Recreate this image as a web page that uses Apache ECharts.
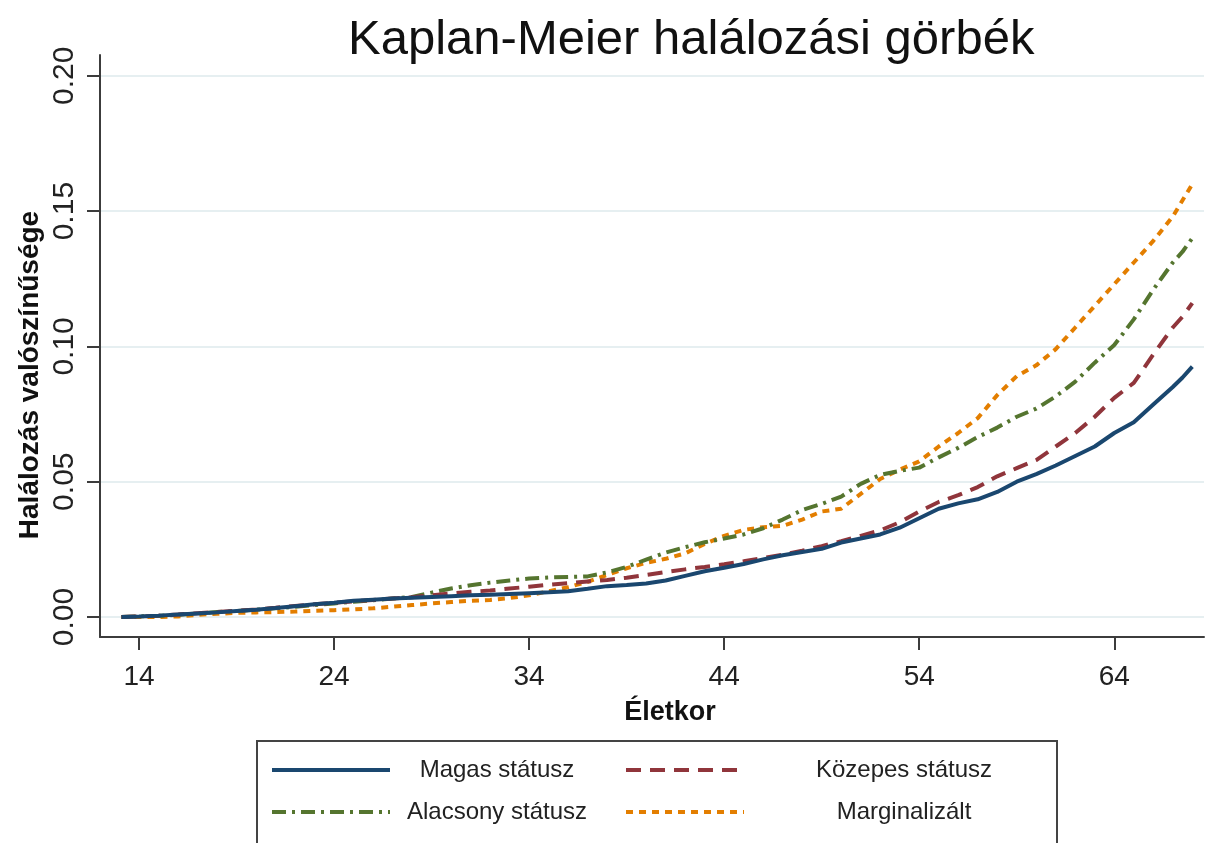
<!DOCTYPE html>
<html>
<head>
<meta charset="utf-8">
<script src="https://cdn.jsdelivr.net/npm/echarts@6/dist/echarts.min.js"></script>
<style>
  html, body { margin: 0; padding: 0; background: #ffffff; }
  #chart { width: 1209px; height: 843px; }
</style>
</head>
<body>
<div id="chart"></div>
<script>
// ---- data ----
const ages = [13.1, 14, 15, 16, 17, 18, 19, 20, 21, 22, 23, 24, 25, 26, 27, 28, 29, 30, 31, 32, 33, 34, 35, 36, 37, 38, 39, 40, 41, 42, 43, 44, 45, 46, 47, 48, 49, 50, 51, 52, 53, 54, 55, 56, 57, 58, 59, 60, 61, 62, 63, 64, 65, 66, 67, 67.5, 68];

const magas = [0, 0.0002, 0.0005, 0.0009, 0.0013, 0.0017, 0.0022, 0.0027, 0.0033, 0.0040, 0.0047, 0.0053, 0.0060, 0.0064, 0.0068, 0.0071, 0.0074, 0.0077, 0.0080, 0.0082, 0.0085, 0.0088, 0.0091, 0.0095, 0.0104, 0.0114, 0.0118, 0.0124, 0.0135, 0.0152, 0.0169, 0.0182, 0.0196, 0.0213, 0.0228, 0.0240, 0.0252, 0.0275, 0.0290, 0.0305, 0.0330, 0.0365, 0.0400, 0.0420, 0.0435, 0.0462, 0.0500, 0.0528, 0.0560, 0.0595, 0.0630, 0.0680, 0.0720, 0.0785, 0.0850, 0.0885, 0.0925];

const kozepes = [0, 0.0002, 0.0005, 0.0009, 0.0014, 0.0018, 0.0023, 0.0028, 0.0034, 0.0041, 0.0047, 0.0053, 0.0058, 0.0063, 0.0068, 0.0073, 0.0080, 0.0087, 0.0093, 0.0098, 0.0105, 0.0112, 0.0119, 0.0125, 0.0131, 0.0137, 0.0145, 0.0155, 0.0166, 0.0176, 0.0185, 0.0195, 0.0206, 0.0218, 0.0230, 0.0245, 0.0262, 0.0280, 0.0300, 0.0320, 0.0350, 0.0390, 0.0425, 0.0450, 0.0480, 0.0520, 0.0550, 0.0580, 0.0630, 0.0680, 0.0740, 0.0810, 0.0865, 0.0970, 0.1070, 0.1110, 0.1160];

const alacsony = [0, 0.0002, 0.0004, 0.0008, 0.0013, 0.0018, 0.0022, 0.0027, 0.0032, 0.0038, 0.0044, 0.0050, 0.0056, 0.0062, 0.0068, 0.0074, 0.0090, 0.0105, 0.0117, 0.0127, 0.0135, 0.0142, 0.0146, 0.0148, 0.0150, 0.0165, 0.0185, 0.0212, 0.0238, 0.0258, 0.0276, 0.0290, 0.0305, 0.0328, 0.0360, 0.0395, 0.0418, 0.0445, 0.0492, 0.0525, 0.0540, 0.0552, 0.0590, 0.0625, 0.0665, 0.0700, 0.0740, 0.0770, 0.0815, 0.0870, 0.0940, 0.1005, 0.1100, 0.1210, 0.1310, 0.1350, 0.1400];

const marginalizalt = [0, 0, 0, 0.0002, 0.0008, 0.0012, 0.0015, 0.0017, 0.0018, 0.0020, 0.0023, 0.0025, 0.0028, 0.0032, 0.0038, 0.0044, 0.0050, 0.0055, 0.0060, 0.0063, 0.0070, 0.0080, 0.0095, 0.0110, 0.0130, 0.0155, 0.0180, 0.0200, 0.0215, 0.0235, 0.0270, 0.0300, 0.0322, 0.0332, 0.0337, 0.0360, 0.0390, 0.0400, 0.0455, 0.0510, 0.0545, 0.0575, 0.0630, 0.0680, 0.0735, 0.0820, 0.0890, 0.0930, 0.0990, 0.1070, 0.1150, 0.1230, 0.1310, 0.1390, 0.1480, 0.1540, 0.1600];

const seriesNames = ['Magas státusz', 'Közepes státusz', 'Alacsony státusz', 'Marginalizált'];
const xTicks = [14, 24, 34, 44, 54, 64];
const yTicks = [0, 0.05, 0.10, 0.15, 0.20];
const titleText = 'Kaplan-Meier halálozási görbék';
const xTitle = 'Életkor';
const yTitle = 'Halálozás valószínűsége';

// ---- styling ----
const FONT = "'Liberation Sans', Arial, sans-serif";
const colors = ['#1a476f', '#90353b', '#55752f', '#e37e00'];
const dashes = ['solid', [15, 9], [14, 6, 3, 6], [7, 6]];
const valueSets = [magas, kozepes, alacsony, marginalizalt];

function pairs(vals) { return ages.map((a, i) => [a, vals[i]]); }

const series = seriesNames.map((name, i) => ({
  name: name,
  type: 'line',
  data: pairs(valueSets[i]),
  showSymbol: false,
  symbol: 'none',
  animation: false,
  z: 10 - i,
  lineStyle: { color: colors[i], width: 4, type: dashes[i], cap: 'butt' },
  itemStyle: { color: colors[i] }
}));

const chart = echarts.init(document.getElementById('chart'), null, { renderer: 'canvas' });

function legendFormatter(name) {
  const col = (name === seriesNames[0] || name === seriesNames[2]) ? 'c1' : 'c2';
  return '{' + col + '|' + name + '}';
}
const legendRich = {
  c1: { width: 204, align: 'center', fontSize: 24, fontFamily: FONT, color: '#222', lineHeight: 30 },
  c2: { width: 310, align: 'center', fontSize: 24, fontFamily: FONT, color: '#222', lineHeight: 30 }
};
function makeLegend(names, top) {
  return {
    data: names,
    orient: 'horizontal',
    left: 270,
    top: top,
    itemWidth: 118,
    itemHeight: 14,
    itemGap: 25,
    padding: 0,
    formatter: legendFormatter,
    itemStyle: { opacity: 0 },
    lineStyle: { width: 4 },
    textStyle: { rich: legendRich, fontFamily: FONT, fontSize: 24, color: '#222' },
    selectedMode: false
  };
}

const option = {
  backgroundColor: '#ffffff',
  animation: false,
  title: {
    text: titleText,
    left: 348,
    top: 16,
    padding: 0,
    textStyle: { fontFamily: FONT, fontSize: 49, fontWeight: 'normal', color: '#111' }
  },
  legend: [
    makeLegend([seriesNames[0], seriesNames[1]], 758),
    makeLegend([seriesNames[2], seriesNames[3]], 800)
  ],
  grid: { left: 100, top: 55, right: 5, bottom: 206, containLabel: false },
  xAxis: {
    type: 'value',
    min: 12.0,
    max: 68.6,
    axisLine: { show: true, onZero: false, lineStyle: { color: '#3c3c3c', width: 2 } },
    axisTick: { show: true, inside: false, length: 13, customValues: xTicks, lineStyle: { color: '#3c3c3c', width: 2 } },
    axisLabel: { customValues: xTicks, margin: 26, fontFamily: FONT, fontSize: 28, color: '#222' },
    splitLine: { show: false }
  },
  yAxis: {
    type: 'value',
    min: -0.0074,
    max: 0.2077,
    axisLine: { show: true, onZero: false, lineStyle: { color: '#3c3c3c', width: 2 } },
    axisTick: { show: true, inside: false, length: 13, customValues: yTicks, lineStyle: { color: '#3c3c3c', width: 2 } },
    axisLabel: {
      customValues: yTicks, rotate: 90, margin: 20, fontFamily: FONT, fontSize: 30, color: '#222',
      formatter: v => v.toFixed(2)
    },
    splitLine: { show: true, lineStyle: { color: '#e6eff1', width: 2 } }
  },
  graphic: [
    {
      type: 'rect',
      shape: { x: 257, y: 741, width: 800, height: 130 },
      style: { fill: 'none', stroke: '#444', lineWidth: 2 },
      z: 0, silent: true
    },
    {
      type: 'text',
      x: 670, y: 713,
      style: { text: xTitle, font: "bold 27px 'Liberation Sans', Arial, sans-serif", fill: '#111', textAlign: 'center', textVerticalAlign: 'middle' }
    },
    {
      type: 'text',
      x: 30, y: 375,
      rotation: Math.PI / 2,
      style: { text: yTitle, font: "bold 28px 'Liberation Sans', Arial, sans-serif", fill: '#111', textAlign: 'center', textVerticalAlign: 'middle' }
    }
  ],
  series: series
};

chart.setOption(option);
</script>
</body>
</html>
